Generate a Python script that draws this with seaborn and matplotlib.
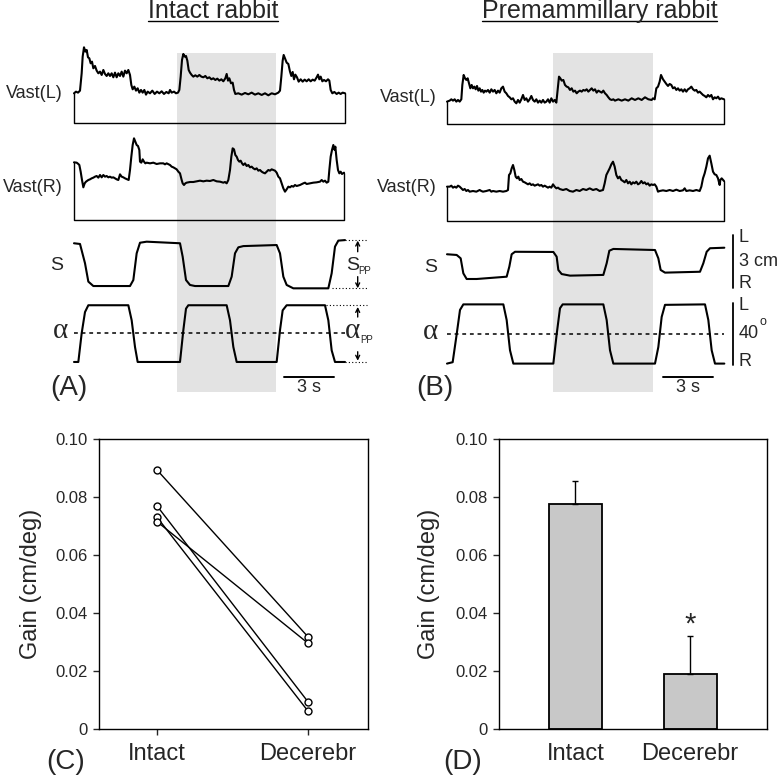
import numpy as np
import pandas as pd
import matplotlib
matplotlib.use("Agg")
import matplotlib.pyplot as plt
from matplotlib.lines import Line2D
import seaborn as sns

sns.set_style("white")
plt.rcParams['font.family'] = ['Liberation Sans', 'DejaVu Sans']

# ---------------- data ----------------
# rectified EMG, (time s, amplitude a.u.)
intact_vast_L = [(0.00,90),(0.12,95),(0.24,92),(0.36,98),(0.46,150),(0.52,200),(0.60,228),(0.68,215),(0.76,220),(0.84,198),
    (0.92,195),(1.00,180),(1.08,185),(1.16,165),(1.26,172),(1.36,158),(1.46,150),(1.56,155),(1.66,145),(1.76,160),
    (1.86,148),(1.96,142),(2.06,150),(2.16,142),(2.26,150),(2.36,138),(2.46,152),(2.56,138),(2.66,150),(2.76,142),
    (2.86,155),(2.96,140),(3.06,158),(3.16,150),(3.26,160),(3.36,145),(3.44,115),(3.52,102),(3.62,110),(3.72,98),
    (3.82,105),(3.92,92),(4.02,100),(4.12,92),(4.22,100),(4.32,86),(4.42,95),(4.56,90),(4.70,98),(4.84,88),
    (4.98,95),(5.12,90),(5.26,96),(5.40,88),(5.54,94),(5.68,90),(5.76,100),(5.86,92),(6.00,95),(6.12,90),
    (6.24,92),(6.32,100),(6.40,140),(6.48,190),(6.56,208),(6.64,200),(6.72,202),(6.80,188),(6.88,160),(6.96,152),
    (7.06,145),(7.16,140),(7.28,144),(7.40,140),(7.52,145),(7.64,140),(7.76,138),(7.88,142),(8.00,135),(8.12,138),
    (8.24,132),(8.36,135),(8.48,130),(8.60,134),(8.72,128),(8.84,132),(8.96,126),(9.08,135),(9.16,148),(9.24,128),
    (9.32,135),(9.42,120),(9.52,122),(9.60,100),(9.68,88),(9.86,90),(10.06,86),(10.26,91),(10.46,87),(10.66,92),
    (10.86,86),(11.06,90),(11.26,85),(11.46,90),(11.66,84),(11.86,90),(12.06,87),(12.26,92),(12.36,98),(12.44,140),
    (12.52,188),(12.58,205),(12.66,195),(12.76,182),(12.86,178),(12.96,155),(13.04,142),(13.12,154),(13.20,132),(13.28,146),
    (13.38,138),(13.48,125),(13.60,132),(13.72,125),(13.84,131),(13.96,126),(14.08,132),(14.20,126),(14.32,131),(14.44,128),
    (14.56,138),(14.64,146),(14.72,132),(14.80,140),(14.90,126),(15.00,130),(15.12,126),(15.24,132),(15.32,128),(15.40,100),
    (15.50,90),(15.62,94),(15.76,88),(15.88,92),(16.00,88),(16.12,92),(16.26,90)]

intact_vast_R = [(0.00,173),(0.16,172),(0.26,168),(0.32,165),(0.40,145),(0.48,120),(0.56,98),(0.64,110),(0.72,115),(0.86,120),
    (0.96,122),(1.06,125),(1.16,127),(1.26,130),(1.36,132),(1.46,127),(1.56,135),(1.66,128),(1.76,135),(1.86,130),
    (1.96,132),(2.06,128),(2.16,130),(2.26,127),(2.36,128),(2.46,125),(2.56,122),(2.66,120),(2.72,130),(2.76,137),
    (2.86,130),(2.96,128),(3.06,125),(3.20,122),(3.28,120),(3.36,150),(3.44,190),(3.52,225),(3.60,245),(3.68,235),
    (3.76,225),(3.84,222),(3.92,210),(3.96,175),(4.04,172),(4.12,182),(4.20,175),(4.28,170),(4.36,172),(4.56,170),
    (4.76,172),(4.96,168),(5.16,170),(5.36,170),(5.46,167),(5.56,170),(5.76,165),(5.86,160),(5.96,158),(6.06,155),
    (6.16,152),(6.26,145),(6.36,140),(6.46,120),(6.52,110),(6.60,105),(6.68,110),(6.76,112),(6.96,114),(7.16,114),
    (7.36,116),(7.56,118),(7.76,116),(7.96,118),(8.16,117),(8.36,120),(8.56,116),(8.76,115),(8.96,112),(9.06,114),
    (9.16,110),(9.26,120),(9.36,150),(9.44,190),(9.52,215),(9.60,212),(9.68,195),(9.76,190),(9.84,180),(9.92,175),
    (10.00,178),(10.08,170),(10.16,165),(10.26,170),(10.36,162),(10.46,165),(10.56,158),(10.66,160),(10.76,155),(10.86,152),
    (10.96,155),(11.06,148),(11.16,150),(11.26,145),(11.36,142),(11.46,140),(11.56,145),(11.66,150),(11.76,148),(11.86,152),
    (11.96,150),(12.06,148),(12.16,142),(12.26,130),(12.36,125),(12.46,110),(12.56,95),(12.66,85),(12.76,92),(12.86,100),
    (12.96,98),(13.06,102),(13.16,100),(13.26,105),(13.36,102),(13.56,105),(13.76,110),(13.86,112),(13.96,108),(14.16,110),
    (14.36,112),(14.56,113),(14.76,115),(14.86,120),(14.96,115),(15.06,118),(15.16,112),(15.26,115),(15.32,150),(15.40,190),
    (15.48,210),(15.56,225),(15.64,210),(15.68,220),(15.76,180),(15.84,150),(15.92,140),(16.00,145),(16.08,138),(16.20,142)]

premam_vast_L = [(0.00,68),(0.16,71),(0.26,75),(0.36,71),(0.46,75),(0.56,68),(0.66,73),(0.76,68),(0.86,75),(0.92,118),
    (1.00,148),(1.08,138),(1.16,133),(1.24,138),(1.32,123),(1.40,108),(1.48,118),(1.56,108),(1.64,113),(1.72,105),
    (1.80,115),(1.88,101),(1.96,108),(2.04,98),(2.12,103),(2.20,95),(2.28,101),(2.36,98),(2.46,103),(2.56,95),
    (2.66,105),(2.76,98),(2.86,103),(2.96,93),(3.06,101),(3.16,95),(3.26,108),(3.36,113),(3.46,98),(3.56,93),
    (3.66,85),(3.76,81),(3.86,75),(3.96,78),(4.06,68),(4.16,63),(4.26,73),(4.36,65),(4.46,75),(4.56,88),
    (4.66,73),(4.76,78),(4.86,68),(4.96,75),(5.06,85),(5.16,73),(5.26,68),(5.36,75),(5.46,65),(5.56,71),
    (5.66,65),(5.76,73),(5.86,65),(5.96,68),(6.06,75),(6.16,65),(6.26,78),(6.36,68),(6.46,73),(6.56,65),
    (6.64,103),(6.72,143),(6.80,138),(6.88,131),(6.98,133),(7.08,118),(7.18,113),(7.28,111),(7.38,103),(7.48,108),
    (7.58,98),(7.68,101),(7.78,93),(7.88,98),(7.98,101),(8.08,98),(8.18,103),(8.28,101),(8.38,105),(8.48,98),
    (8.58,103),(8.68,108),(8.78,101),(8.88,105),(8.98,95),(9.08,101),(9.18,98),(9.28,95),(9.38,101),(9.48,93),
    (9.58,88),(9.68,81),(9.78,75),(9.88,73),(9.98,75),(10.08,71),(10.28,75),(10.48,71),(10.68,75),(10.88,71),
    (11.08,78),(11.28,73),(11.48,78),(11.68,73),(11.88,81),(12.08,75),(12.28,73),(12.36,78),(12.46,75),(12.56,108),
    (12.66,113),(12.76,128),(12.84,148),(12.96,135),(13.06,128),(13.16,121),(13.26,115),(13.36,121),(13.46,118),(13.56,108),
    (13.66,111),(13.76,103),(13.86,108),(13.96,101),(14.06,105),(14.16,98),(14.26,105),(14.36,98),(14.46,105),(14.56,108),
    (14.66,113),(14.76,105),(14.86,101),(14.96,103),(15.06,95),(15.16,98),(15.26,93),(15.36,88),(15.46,85),(15.56,81),
    (15.66,88),(15.76,83),(15.86,88),(15.96,75),(16.06,81),(16.16,78),(16.26,83),(16.36,75),(16.46,78),(16.62,75)]

premam_vast_R = [(0.00,103),(0.16,103),(0.26,106),(0.36,100),(0.46,103),(0.56,100),(0.66,106),(0.76,103),(0.86,98),(0.96,93),
    (1.06,96),(1.16,90),(1.26,93),(1.36,88),(1.56,90),(1.76,88),(1.96,93),(2.06,90),(2.16,88),(2.36,90),
    (2.56,93),(2.66,88),(2.76,90),(2.96,88),(3.16,90),(3.36,88),(3.56,90),(3.66,93),(3.72,138),(3.80,143),
    (3.88,158),(3.96,168),(4.04,153),(4.12,133),(4.20,128),(4.28,133),(4.36,123),(4.46,126),(4.56,118),(4.66,116),
    (4.76,113),(4.86,110),(4.96,113),(5.06,108),(5.16,110),(5.26,106),(5.36,108),(5.46,110),(5.56,106),(5.66,108),
    (5.76,103),(5.86,106),(5.96,103),(6.06,100),(6.16,103),(6.26,100),(6.36,110),(6.46,103),(6.56,98),(6.66,100),
    (6.76,96),(6.96,93),(7.16,96),(7.36,90),(7.56,88),(7.76,93),(7.96,90),(8.16,96),(8.36,93),(8.56,98),
    (8.76,93),(8.96,96),(9.16,90),(9.36,93),(9.46,113),(9.56,138),(9.66,148),(9.76,158),(9.86,170),(9.96,178),
    (10.06,163),(10.16,138),(10.26,128),(10.36,133),(10.46,123),(10.56,120),(10.66,116),(10.76,123),(10.86,113),(10.96,118),
    (11.06,110),(11.16,116),(11.26,113),(11.36,118),(11.46,110),(11.56,113),(11.66,120),(11.76,113),(11.86,116),(11.96,110),
    (12.06,113),(12.16,106),(12.26,110),(12.36,108),(12.46,110),(12.56,103),(12.66,88),(12.76,90),(12.96,92),(13.16,90),
    (13.36,93),(13.56,90),(13.76,94),(13.96,90),(14.16,92),(14.26,98),(14.36,90),(14.56,92),(14.76,90),(14.96,93),
    (15.16,90),(15.26,103),(15.36,128),(15.46,143),(15.56,163),(15.66,188),(15.76,196),(15.86,173),(15.96,148),(16.06,140),
    (16.16,138),(16.26,128),(16.36,108),(16.40,123),(16.48,128),(16.62,120)]

# body sway S (time s, cm, left up) and platform tilt alpha (time s, deg)
intact_S = [(0.00,1.23),(0.36,1.19),(0.66,0.10),(0.86,-0.94),(1.16,-1.19),(3.36,-1.19),(3.56,-0.85),(3.76,0.66),(3.96,1.26),
    (4.36,1.32),(6.36,1.23),(6.52,0.47),(6.72,-0.85),(6.96,-1.13),(7.26,-1.19),(9.26,-1.19),(9.46,-0.66),(9.66,0.66),
    (9.86,1.00),(10.16,1.07),(12.16,1.13),(12.36,0.66),(12.56,-0.66),(12.76,-1.13),(13.16,-1.32),(15.26,-1.32),
    (15.46,-0.47),(15.66,1.04),(15.86,1.38),(16.26,1.41)]
intact_alpha = [(0.00,-18.5),(0.26,-18.5),(0.46,0.0),(0.66,13.7),(0.86,18.1),(3.26,18.1),(3.46,8.4),(3.66,-8.8),(3.82,-18.5),
    (6.36,-18.5),(6.56,2.0),(6.72,15.9),(6.86,18.1),(9.16,18.1),(9.36,8.4),(9.56,-8.8),(9.76,-18.5),(12.16,-18.5),
    (12.36,2.0),(12.52,14.8),(12.76,18.1),(15.06,18.1),(15.26,8.4),(15.46,-11.0),(15.66,-18.5),(16.26,-18.5)]
premam_S = [(0.00,0.41),(0.58,0.37),(0.82,0.18),(0.98,-0.67),(1.18,-0.99),(1.78,-0.99),(3.58,-0.86),(3.74,-0.29),(3.88,0.41),
    (4.08,0.55),(6.38,0.54),(6.58,0.27),(6.68,-0.48),(6.88,-0.71),(7.38,-0.80),(9.38,-0.76),(9.58,-0.10),(9.74,0.61),
    (9.98,0.71),(12.48,0.65),(12.68,0.18),(12.82,-0.48),(13.08,-0.63),(15.18,-0.58),(15.38,-0.10),(15.58,0.55),
    (15.78,0.75),(16.64,0.78)]
premam_alpha = [(0.00,-18.9),(0.34,-18.0),(0.58,0.0),(0.78,15.7),(0.98,19.3),(3.38,19.3),(3.58,9.2),(3.78,-10.3),(3.98,-18.9),
    (6.38,-18.9),(6.58,0.0),(6.78,16.8),(6.94,19.3),(9.38,19.3),(9.58,9.2),(9.78,-10.3),(9.98,-18.9),(12.48,-18.9),
    (12.68,-8.2),(12.88,11.2),(13.08,19.0),(15.48,19.3),(15.68,9.2),(15.88,-10.3),(16.08,-18.9),(16.64,-18.9)]

intact_shade = (6.2, 12.1)      # s
premam_shade = (6.38, 12.38)

# gains, individual rabbits (C) and mean + SEM (D)
conditions = ['Intact', 'Decerebr']
gain_intact = [0.0894, 0.0770, 0.0731, 0.0716]
gain_decerebr = [0.0319, 0.0095, 0.0063, 0.0297]
gain_mean = [0.0776, 0.0191]
gain_sem = [0.0080, 0.0132]
gain_ticks = [0, 0.02, 0.04, 0.06, 0.08, 0.10]
gain_ticklabels = ['0', '0.02', '0.04', '0.06', '0.08', '0.10']

# ---------------- layout helpers (pixels of the 781 px figure) ----------------
W = H = 781
SPX = 1 / 0.06          # px per second in the traces
EMG_PX = 1 / 3          # px per EMG unit
CM_PX = 17.67           # px per cm
DEG_PX = 1.55           # px per degree
SERIF = ['Liberation Serif', 'DejaVu Serif']

fig = plt.figure(figsize=(W / 100, H / 100), dpi=100)


def px_axes(x0, y0, x1, y1):
    return fig.add_axes([x0 / W, 1 - y1 / H, (x1 - x0) / W, (y1 - y0) / H])


def ftext(x, y, s, **kw):
    kw.setdefault('fontsize', 13)
    kw.setdefault('va', 'center')
    return fig.text(x / W, 1 - y / H, s, **kw)


def line(ax, x, y, **kw):
    kw.setdefault('color', 'k')
    sns.lineplot(x=np.asarray(x, float), y=np.asarray(y, float), sort=False,
                 estimator=None, ax=ax, clip_on=False, **kw)


def emg(ax, pairs, base):
    t, a = np.array(pairs, float).T
    y = base - a * EMG_PX
    line(ax, [t[0], t[0], t[-1], t[-1]], [y[0], base, base, y[-1]], lw=1.0)
    line(ax, t, y, lw=1.5)


def arrow(ax, t, y0, y1):
    ax.annotate('', xy=(t, y1), xytext=(t, y0),
                arrowprops=dict(arrowstyle='->', lw=1.0, color='k', shrinkA=0, shrinkB=0,
                                mutation_scale=7))


def trace_panel(x0, x1, t0px, shade, vL, vR, S, alpha, baseL, baseR, baseS, baseA):
    ax = px_axes(x0, 52.5, x1, 392)
    ax.axvspan(*shade, color='#e3e3e3', lw=0, zorder=0)
    emg(ax, vL, baseL)
    emg(ax, vR, baseR)
    ts, s = np.array(S, float).T
    line(ax, ts, baseS - s * CM_PX, lw=1.5)
    ta, al = np.array(alpha, float).T
    line(ax, ta, baseA - al * DEG_PX, lw=1.5)
    ax.plot([0, ta[-1]], [baseA, baseA], ls=(0, (2.5, 2.5)), color='k', lw=1.1)
    ax.set_xlim((x0 - t0px) / SPX, (x1 - t0px) / SPX)
    ax.set_ylim(392, 52.5)
    ax.axis('off')
    return ax, ts, s, ta, al


def underlined_title(x, s):
    t = ftext(x, 18.3, s, fontsize=18, ha='center', va='baseline')
    fig.canvas.draw()
    bb = t.get_window_extent()
    fig.add_artist(Line2D([bb.x0 / W, bb.x1 / W], [1 - 21 / H] * 2, color='k', lw=1.0))


# ---------------- (A) intact rabbit ----------------
axA, ts, s, ta, al = trace_panel(40, 390, 74, intact_shade, intact_vast_L, intact_vast_R,
                                 intact_S, intact_alpha, 123.3, 220, 265, 333.3)
t_end = ta[-1]
t_dot = (367 - 74) / SPX
t_arr = (357.7 - 74) / SPX
sy = lambda v: 265 - v * CM_PX
ay = lambda v: 333.3 - v * DEG_PX
for xa, yv in [(ts[-1], sy(s.max())), (15.5, sy(s.min())), (15.1, ay(al.max())), (t_end, ay(al.min()))]:
    axA.plot([xa, t_dot], [yv, yv], ls=(0, (1, 2)), color='k', lw=0.8, clip_on=False)
arrow(axA, t_arr, sy(0.75), sy(1.38))
arrow(axA, t_arr, sy(-0.66), sy(-1.32))
arrow(axA, t_arr, ay(10.5), ay(17.0))
arrow(axA, t_arr, ay(-11.9), ay(-17.7))
axA.plot([12.62, 15.62], [376.7, 376.7], color='k', lw=1.4, clip_on=False)
axA.text(14.12, 387, '3 s', ha='center', va='center', fontsize=13)

ftext(63, 94, 'Vast(L)', ha='right')
ftext(63, 188, 'Vast(R)', ha='right')
ftext(63, 266, 'S', ha='right', fontsize=14)
ftext(68, 331, 'α', ha='right', fontsize=21, family=SERIF)
ftext(346.5, 265, 'S', ha='left', fontsize=14)
ftext(358, 271, 'PP', ha='left', fontsize=7)
ftext(345, 331, 'α', ha='left', fontsize=21, family=SERIF)
ftext(360, 340, 'PP', ha='left', fontsize=7)
ftext(69, 388, '(A)', ha='center', fontsize=20)
underlined_title(213, 'Intact rabbit')

# ---------------- (B) premammillary rabbit ----------------
axB, ts, s, ta, al = trace_panel(415, 781, 447, premam_shade, premam_vast_L, premam_vast_R,
                                 premam_S, premam_alpha, 124.3, 221, 261.5, 334.3)
t_bar = (733.3 - 447) / SPX
axB.plot([t_bar, t_bar], [261.5 - 1.5 * CM_PX, 261.5 + 1.5 * CM_PX], color='k', lw=1.3, clip_on=False)
axB.plot([t_bar, t_bar], [334.3 - 20 * DEG_PX, 334.3 + 20 * DEG_PX], color='k', lw=1.3, clip_on=False)
axB.plot([12.98, 15.98], [376.7, 376.7], color='k', lw=1.4, clip_on=False)
axB.text(14.48, 387, '3 s', ha='center', va='center', fontsize=13)

ftext(437, 97, 'Vast(L)', ha='right')
ftext(437, 188, 'Vast(R)', ha='right')
ftext(437, 267, 'S', ha='right', fontsize=14)
ftext(438, 332, 'α', ha='right', fontsize=21, family=SERIF)
ftext(739, 238, 'L', ha='left')
ftext(739, 261, '3 cm', ha='left')
ftext(739, 283, 'R', ha='left')
ftext(739, 306, 'L', ha='left')
ftext(739, 333, '40', ha='left')
ftext(760, 322, 'o', ha='left', fontsize=9)
ftext(739, 361, 'R', ha='left')
ftext(435, 388, '(B)', ha='center', fontsize=20)
underlined_title(599.5, 'Premammillary rabbit')

# ---------------- (C) individual gains ----------------
gain_df = pd.DataFrame({
    'rabbit': list(range(len(gain_intact))) * 2,
    'condition': np.repeat(conditions, len(gain_intact)),
    'gain': gain_intact + gain_decerebr,
})
axC = px_axes(99, 439.3, 368, 729.3)
sns.lineplot(data=gain_df, x='condition', y='gain', units='rabbit', estimator=None, ax=axC,
             color='k', lw=1.0, marker='o', markersize=5, markerfacecolor='white',
             markeredgecolor='k', markeredgewidth=1.0)
axC.set_xlim(-0.385, 1.398)

# ---------------- (D) mean gain ----------------
bar_df = pd.DataFrame({'condition': conditions, 'gain': gain_mean})
axD = px_axes(499, 439.3, 767, 729.3)
sns.barplot(data=bar_df, x='condition', y='gain', color='#c8c8c8', saturation=1, edgecolor='k',
            linewidth=1.3, width=0.46, errorbar=None, ax=axD)
axD.errorbar(range(len(conditions)), gain_mean, yerr=[[0] * len(gain_sem), gain_sem], fmt='none',
             ecolor='k', elinewidth=1.0, capsize=2.5, capthick=1.0, zorder=1)
axD.text(1, 0.0362, '*', ha='center', va='center', fontsize=21)
axD.set_xlim(-0.666, 1.67)

for ax, lab_x in [(axC, -0.212), (axD, -0.22)]:
    ax.set_ylim(0, 0.10)
    ax.set_yticks(gain_ticks)
    ax.set_yticklabels(gain_ticklabels)
    ax.set_xlabel('')
    ax.set_ylabel('Gain (cm/deg)', fontsize=17)
    ax.yaxis.set_label_coords(lab_x, 0.5)
    ax.tick_params(axis='y', left=True, direction='out', length=4, width=1.0, labelsize=12, pad=4)
    for sp in ax.spines.values():
        sp.set_visible(True)
        sp.set_color('k')
        sp.set_linewidth(1.0)
axC.tick_params(axis='x', bottom=True, direction='out', length=4, width=1.0, labelsize=17, pad=6)
axD.tick_params(axis='x', bottom=False, length=0, labelsize=17, pad=10)

ftext(66, 762, '(C)', ha='center', fontsize=20)
ftext(463, 762, '(D)', ha='center', fontsize=20)

fig.savefig('out.png', dpi=100)
